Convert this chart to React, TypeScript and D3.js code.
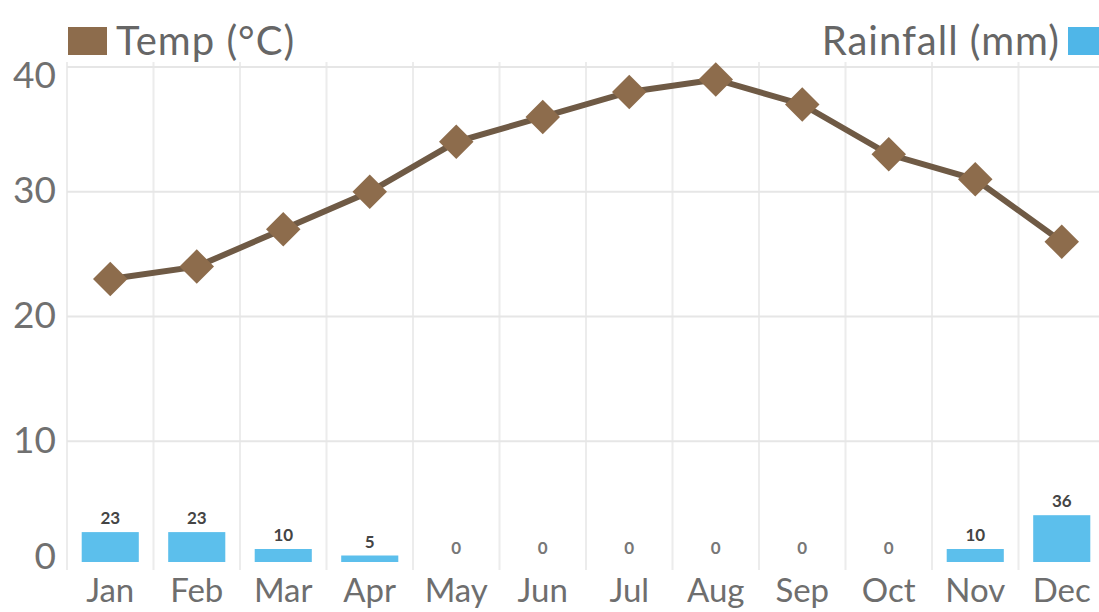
import React from "react";
import * as d3 from "d3";

const months = ["Jan", "Feb", "Mar", "Apr", "May", "Jun", "Jul", "Aug", "Sep", "Oct", "Nov", "Dec"];
const tempC = [23, 24, 27, 30, 34, 36, 38, 39, 37, 33, 31, 26];
const rainfallMm = [23, 23, 10, 5, 0, 0, 0, 0, 0, 0, 10, 36];
const tempTicks = [0, 10, 20, 30, 40];
const legendTemp = "Temp (°C)";
const legendRain = "Rainfall (mm)";

const W = 1099;
const H = 612;
const FONT = "Lato, 'Open Sans', sans-serif";

export default function App() {
  const x = d3.scaleBand<string>().domain(months).range([67, 1105]).padding(0);
  const y = d3.scaleLinear().domain([0, 40]).range([566, 67]);
  const yRain = d3.scaleLinear().domain([0, 100]).range([562, 432]);
  const bw = x.bandwidth();
  const barW = bw * 0.66;
  const cx = (m: string) => (x(m) as number) + bw / 2;

  const line = d3
    .line<number>()
    .x((_, i) => cx(months[i]))
    .y((d) => y(d));

  const diamond = d3.symbol().type(d3.symbolDiamond2).size(760);

  return (
    <svg
      width={W}
      height={H}
      style={{ position: "absolute", left: 0, top: 0, display: "block", background: "#fff" }}
    >
      {/* vertical grid */}
      {months.map((m, i) => (
        <line
          key={"vg" + i}
          x1={x(m) as number}
          x2={x(m) as number}
          y1={62}
          y2={570}
          stroke="#ececec"
          strokeWidth={2}
        />
      ))}
      {/* horizontal grid */}
      {tempTicks.filter((t) => t > 0).map((t) => (
        <line key={"hg" + t} x1={67} x2={W} y1={y(t)} y2={y(t)} stroke="#e6e6e6" strokeWidth={2} />
      ))}
      {/* y labels */}
      {tempTicks.map((t) => (
        <text
          key={"yl" + t}
          x={56}
          y={y(t) + (t === 40 ? 12 : t === 0 ? -6 : 2)}
          textAnchor="end"
          dominantBaseline="middle"
          fontFamily={FONT}
          fontSize={37}
          fill="#707070"
        >
          {t}
        </text>
      ))}
      {/* bars */}
      {months.map((m, i) => {
        const v = rainfallMm[i];
        const top = yRain(v);
        return (
          <g key={"bar" + i}>
            {v > 0 && (
              <rect
                x={cx(m) - barW / 2}
                y={top}
                width={barW}
                height={yRain(0) - top}
                fill="#5cbfec"
              />
            )}
            <text
              x={cx(m)}
              y={top - 8}
              textAnchor="middle"
              fontFamily={FONT}
              fontWeight={700}
              fontSize={17}
              fill={v > 0 ? "#444" : "#777"}
            >
              {v}
            </text>
          </g>
        );
      })}
      {/* x labels */}
      {months.map((m) => (
        <text
          key={"xl" + m}
          x={cx(m)}
          y={602}
          textAnchor="middle"
          fontFamily={FONT}
          fontSize={33}
          fill="#6e6e6e"
        >
          {m}
        </text>
      ))}
      {/* temp line */}
      <path d={line(tempC) || ""} fill="none" stroke="#6f5a45" strokeWidth={6} />
      {tempC.map((t, i) => (
        <path
          key={"mk" + i}
          d={diamond() || ""}
          transform={`translate(${cx(months[i])},${y(t)})`}
          fill="#8d6c4c"
        />
      ))}
      {/* legend */}
      <rect x={68} y={27} width={39} height={28} fill="#8d6c4c" />
      <text x={116} y={55} fontFamily={FONT} fontSize={40} fill="#666" letterSpacing={1}>
        {legendTemp}
      </text>
      <text x={1060} y={55} textAnchor="end" fontFamily={FONT} fontSize={40} fill="#666" letterSpacing={1}>
        {legendRain}
      </text>
      <rect x={1068} y={27} width={39} height={28} fill="#4fb6e8" />
    </svg>
  );
}
